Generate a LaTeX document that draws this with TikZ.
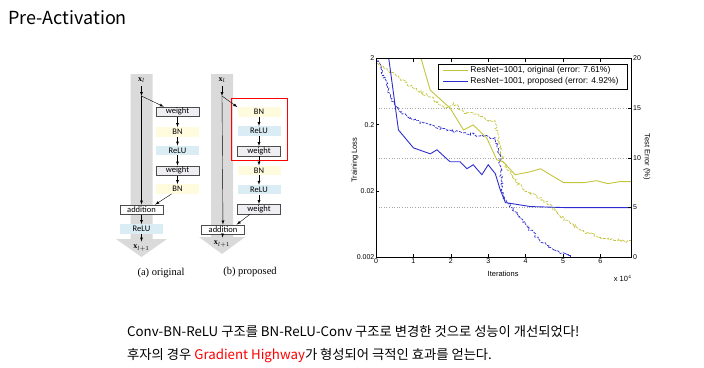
\documentclass[tikz,border=0pt]{standalone}
\usepackage{amssymb}
\usepackage{pgf, tikz}
\usepackage{xcolor}
\usepackage{fontspec}
\setmainfont{Liberation Serif}
\newfontfamily\krfont{Noto Sans CJK KR}
\newfontfamily\boxfont{Carlito}
\newfontfamily\plotfont{Liberation Sans}
\usetikzlibrary{decorations.pathmorphing}

\definecolor{bnyellow}{RGB}{255,251,222}
\definecolor{relublue}{RGB}{218,236,244}
\definecolor{wgray}{RGB}{238,238,243}
\definecolor{bandgray}{RGB}{218,218,218}
\definecolor{curveyellow}{RGB}{196,196,60}
\definecolor{curveblue}{RGB}{45,45,205}

\tikzset{
  bn/.style={fill=bnyellow, minimum width=43pt, minimum height=9.5pt, inner sep=0pt, font=\boxfont\fontsize{8.5}{8.5}\selectfont},
  relu/.style={bn, fill=relublue},
  wbox/.style={bn, fill=wgray, draw=black!70, line width=0.5pt},
  addbox/.style={wbox, fill=white},
  ticklbl/.style={inner sep=1.5pt, font=\plotfont\fontsize{7}{7}\selectfont},
  axlbl/.style={inner sep=0pt, font=\plotfont\fontsize{7.5}{7.5}\selectfont},
  noisy/.style={dashed, dash pattern=on 3pt off 1.2pt, line width=0.7pt, decorate, decoration={random steps, segment length=1.5pt, amplitude=1.5pt}}
}

\begin{document}
\begin{tikzpicture}[x=1pt, y=-1pt]
\useasboundingbox (0,0) rectangle (704,367);
\pgfmathsetseed{7}

\node[anchor=base west, inner sep=0pt, font=\krfont\fontsize{18}{18}\selectfont](0) at (8,24){Pre-Activation};

\fill[bandgray] (130.5,74)--(152.5,74)--(152.5,239)--(167,239)--(141.5,257)--(116,239)--(130.5,239)--cycle;
\fill[bandgray] (211,74)--(233,74)--(233,237)--(245,237)--(222,254)--(199,237)--(211,237)--cycle;

\node[font=\fontsize{8}{8}\selectfont](1) at (141.5,80){$\mathbf{x}_l$};
\coordinate(2) at (141.5,96);
\node[wbox](3) at (177.5,111.7){weight};
\node[bn](4) at (177.5,132){BN};
\node[relu](5) at (177.5,150.5){ReLU};
\node[wbox](6) at (177.5,170.5){weight};
\node[bn](7) at (177.5,189){BN};
\node[addbox](8) at (141.5,209.5){addition};
\node[relu](9) at (141.5,229){ReLU};
\node[font=\fontsize{8}{8}\selectfont](10) at (141.5,248){$\mathbf{x}_{l+1}$};
\node[font=\fontsize{10.5}{10.5}\selectfont](11) at (161,273){(a) original};

\node[font=\fontsize{8}{8}\selectfont](12) at (222,80){$\mathbf{x}_l$};
\coordinate(13) at (222,96);
\node[bn](14) at (259,112){BN};
\node[relu](15) at (259,131){ReLU};
\node[wbox](16) at (259,151){weight};
\node[bn](17) at (259,170.5){BN};
\node[relu](18) at (259,189.7){ReLU};
\node[wbox](19) at (259,209){weight};
\node[addbox](20) at (223,229.5){addition};
\node[font=\fontsize{8}{8}\selectfont](21) at (222,244){$\mathbf{x}_{l+1}$};
\node[font=\fontsize{10.5}{10.5}\selectfont](22) at (250,272){(b) proposed};
\draw[red, line width=0.9pt] (231,98.3) rectangle (287.3,160.7);

\draw [->,>=latex](1)--(2);
\draw [->,>=latex](2)--(8);
\draw [->,>=latex](2)--(3.160);
\draw [->,>=latex](3)--(4);
\draw [->,>=latex](4)--(5);
\draw [->,>=latex](5)--(6);
\draw [->,>=latex](6)--(7);
\draw [->,>=latex](7.220)--(8.20);
\draw [->,>=latex](8)--(9);
\draw [->,>=latex](9)--(10);
\draw [->,>=latex](12)--(13);
\draw [->,>=latex](13)--(20);
\draw [->,>=latex](13)--(14.north west);
\draw [->,>=latex](14)--(15);
\draw [->,>=latex](15)--(16);
\draw [->,>=latex](16)--(17);
\draw [->,>=latex](17)--(18);
\draw [->,>=latex](18)--(19);
\draw [->,>=latex](19.210)--(20.20);
\draw [->,>=latex](20)--(21);

\begin{scope}[shift={(376pt,-257.3pt)}, x={(37.4pt,0pt)}, y={(0pt,9.95pt)}]
\foreach \g in {5,10,15}
  \draw[gray!70, dotted, line width=0.6pt] (0,\g)--(6.83,\g);
\begin{scope}
\clip (0,0) rectangle (6.83,20);
\draw[curveyellow, noisy] plot coordinates {(0.02,19.5) (0.55,18.2) (1.0,17) (1.45,16.1) (1.85,15) (2.07,15.5) (2.34,14.6) (2.6,14.5) (2.96,13.8) (3.19,13.6) (3.28,11.5) (3.4,9.6) (3.68,7.9) (3.95,6.8) (4.3,6.1) (4.66,5.3) (4.93,4.1) (5.2,3.4) (5.55,2.6) (5.9,2.1) (6.36,1.7) (6.83,1.6)};
\draw[curveblue, noisy] plot coordinates {(0.06,19.8) (0.2,18.3) (0.42,15.8) (0.6,14.8) (1.0,13.8) (1.45,13.3) (1.9,12.8) (2.34,12.5) (2.79,12.2) (3.19,12) (3.28,10.8) (3.4,6.1) (3.77,4.4) (4.04,3.1) (4.4,1.6) (4.84,0.6) (5.2,0.1) (5.6,-0.5)};
\draw[curveyellow, line width=0.9pt] plot coordinates {(1.18,20.3) (1.45,16.8) (1.98,15) (2.34,12.8) (2.6,13.3) (2.96,12) (3.23,9.8) (3.4,9.6) (3.72,8.3) (4.13,8.6) (4.4,8.9) (4.66,8.3) (5.02,7.5) (5.55,7.5) (5.9,7.7) (6.2,7.4) (6.5,7.6) (6.83,7.6)};
\draw[curveblue, line width=0.9pt] plot coordinates {(0.33,20.3) (0.6,12.8) (1.0,11) (1.45,10.4) (1.63,10.8) (1.98,9.6) (2.25,9.6) (2.43,8.9) (2.6,9.3) (2.83,8.3) (3.0,9.3) (3.19,8.4) (3.32,6.8) (3.46,5.5) (4.13,5.1) (5.02,5.0) (6.83,5.0)};
\end{scope}
\draw[line width=0.6pt] (0,0) rectangle (6.83,20);
\foreach \i in {0,...,6}{
  \draw[line width=0.4pt] (\i,0)--(\i,0.35) (\i,20)--(\i,19.65);
  \node[ticklbl, below](x\i) at (\i,0){\i};
}
\foreach \v/\l [count=\k] in {0/0.002, 6.667/0.02, 13.333/0.2, 20/2}{
  \draw[line width=0.4pt] (0,\v)--(0.08,\v);
  \node[ticklbl, left](l\k) at (0,\v){\l};
}
\foreach \v in {0,5,10,15,20}{
  \draw[line width=0.4pt] (6.83,\v)--(6.75,\v);
  \node[ticklbl, right](r\v) at (6.83,\v){\v};
}
\node[axlbl](23) at (3.4,-1.68){Iterations};
\node[axlbl](24) at (6.6,-2.1){x 10$^4$};
\node[axlbl, rotate=90](25) at (-0.56,9.78){Training Loss};
\node[axlbl, rotate=-90](26) at (7.24,10.1){Test Error (\%)};
\draw[fill=white, line width=0.6pt] (1.66,19.37) rectangle (6.72,16.86);
\coordinate(27) at (1.8,18.8);
\coordinate(28) at (2.47,18.8);
\coordinate(29) at (1.8,17.65);
\coordinate(30) at (2.47,17.65);
\draw[curveyellow, line width=0.9pt](27)--(28);
\draw[curveblue, line width=0.9pt](29)--(30);
\node[axlbl, anchor=west, font=\plotfont\fontsize{8.5}{8.5}\selectfont](31) at (2.52,18.8){ResNet−1001, original (error: 7.61\%)};
\node[axlbl, anchor=west, font=\plotfont\fontsize{8.5}{8.5}\selectfont](32) at (2.52,17.65){ResNet−1001, proposed (error: 4.92\%)};
\end{scope}

\node[anchor=base west, inner sep=0pt, font=\krfont\fontsize{13.3}{13.3}\selectfont](33) at (127,336){Conv-BN-ReLU 구조를 BN-ReLU-Conv 구조로 변경한 것으로 성능이 개선되었다!};
\node[anchor=base west, inner sep=0pt, font=\krfont\fontsize{13.3}{13.3}\selectfont](34) at (127,359){후자의 경우 {\color{red}Gradient Highway}가 형성되어 극적인 효과를 얻는다.};
\end{tikzpicture}
\end{document}
